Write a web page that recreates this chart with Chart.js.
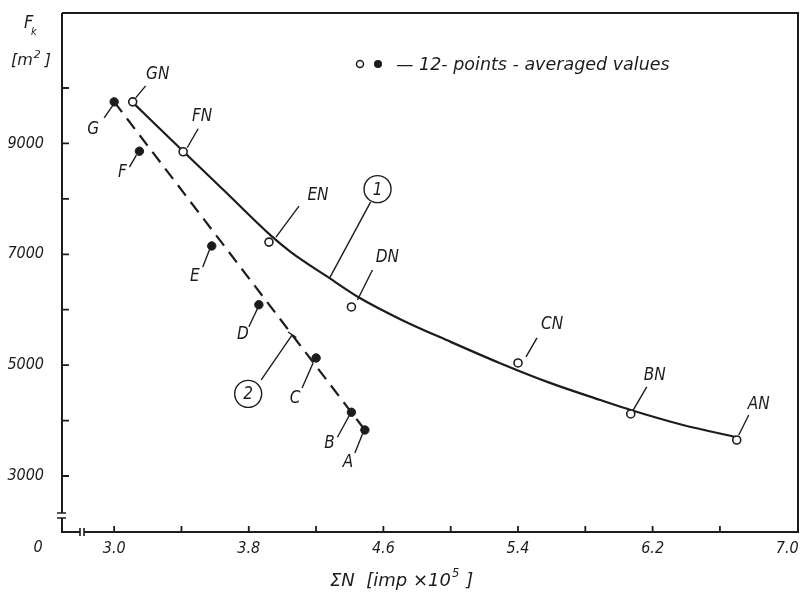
<!DOCTYPE html>
<html>
<head>
<meta charset="utf-8">
<script src="https://cdn.jsdelivr.net/npm/chart.js@4.4.1/dist/chart.umd.min.js"></script>
<style>
html,body{margin:0;padding:0;background:#ffffff;}
#wrap{width:804px;height:592px;}
</style>
</head>
<body>
<div id="wrap"><canvas id="c" width="804" height="592"></canvas></div>
<script>
// ---------- data ----------
const openNames   = ['GN', 'FN', 'EN', 'DN', 'CN', 'BN', 'AN'];
const openX       = [3.11, 3.41, 3.92, 4.41, 5.40, 6.07, 6.70];
const openY       = [9750, 8850, 7220, 6050, 5040, 4120, 3650];

const filledNames = ['G', 'F', 'E', 'D', 'C', 'B', 'A'];
const filledX     = [3.00, 3.15, 3.58, 3.86, 4.20, 4.41, 4.49];
const filledY     = [9750, 8860, 7150, 6090, 5130, 4150, 3830];

// curve (1): smooth fitted line through the open-circle values
const curve1X = [3.11, 3.41, 3.67, 3.93, 4.05, 4.28, 4.45, 4.70, 5.00, 5.29, 5.59, 5.89, 6.07, 6.38, 6.70];
const curve1Y = [9740, 8860, 8100, 7340, 7040, 6570, 6230, 5830, 5420, 5040, 4680, 4370, 4190, 3920, 3700];

// line (2): dashed straight line through the filled-dot values
const line2X = [3.00, 4.49];
const line2Y = [9750, 3830];

const xTicks      = [3.0, 3.4, 3.8, 4.2, 4.6, 5.0, 5.4, 5.8, 6.2, 6.6, 7.0];
const xTickLabels = ['3.0', '3.8', '4.6', '5.4', '6.2', '7.0'];
const yTicks      = [3000, 4000, 5000, 6000, 7000, 8000, 9000, 10000];
const yTickLabels = ['3000', '5000', '7000', '9000'];

// ---------- styles ----------
const INK = '#1c1c1c';
const FAM = "'DejaVu Sans Condensed', 'Liberation Sans', Arial, sans-serif";
const WIDE = "'DejaVu Sans', 'Liberation Sans', Arial, sans-serif";

const labelStyle = {
  GN: {l: [3, -4, 13, -16],  t: [25, -27]},
  FN: {l: [4, -4, 15, -23],  t: [19, -35]},
  EN: {l: [7, -5, 30, -36],  t: [49, -47]},
  DN: {l: [6, -7, 21, -37],  t: [36, -49]},
  CN: {l: [8, -6, 19, -25],  t: [34, -38]},
  BN: {l: [2, -3, 16, -27],  t: [24, -38]},
  AN: {l: [2, -5, 12, -25],  t: [22, -35]},
  G:  {l: [-1, 3, -10, 16],  t: [-21, 28]},
  F:  {l: [-3, 4, -10, 16],  t: [-17, 21]},
  E:  {l: [-2, 3, -9, 21],   t: [-17, 31]},
  D:  {l: [-1, 3, -10, 22],  t: [-16, 30]},
  C:  {l: [-3, 5, -14, 30],  t: [-21, 41]},
  B:  {l: [-2, 3, -14, 25],  t: [-22, 31]},
  A:  {l: [-2, 3, -10, 23],  t: [-17, 33]}
};

function font(size, fam) { return 'italic ' + size + 'px ' + (fam || FAM); }

const figurePlugin = {
  id: 'figure',
  afterDraw(chart) {
    const ctx = chart.ctx;
    const xs = chart.scales.x, ys = chart.scales.y;
    const a = chart.chartArea;
    ctx.save();
    ctx.strokeStyle = INK;
    ctx.fillStyle = INK;
    ctx.lineCap = 'butt';

    // frame: top + right
    ctx.lineWidth = 2;
    ctx.beginPath();
    ctx.moveTo(a.left, a.top); ctx.lineTo(a.right, a.top); ctx.lineTo(a.right, a.bottom);
    ctx.stroke();
    // left axis with break
    const yBreak1 = a.bottom - 19, yBreak2 = a.bottom - 14;
    ctx.beginPath();
    ctx.moveTo(a.left, a.top); ctx.lineTo(a.left, yBreak1);
    ctx.moveTo(a.left, yBreak2); ctx.lineTo(a.left, a.bottom);
    ctx.stroke();
    ctx.lineWidth = 1.6;
    ctx.beginPath();
    ctx.moveTo(a.left - 5, yBreak1); ctx.lineTo(a.left + 4, yBreak1);
    ctx.moveTo(a.left - 5, yBreak2); ctx.lineTo(a.left + 4, yBreak2);
    ctx.stroke();
    // bottom axis with break
    const xBreak1 = a.left + 18, xBreak2 = a.left + 22;
    ctx.lineWidth = 2;
    ctx.beginPath();
    ctx.moveTo(a.left - 1, a.bottom); ctx.lineTo(xBreak1, a.bottom);
    ctx.moveTo(xBreak2, a.bottom); ctx.lineTo(a.right + 1, a.bottom);
    ctx.stroke();
    ctx.lineWidth = 1.6;
    ctx.beginPath();
    ctx.moveTo(xBreak1, a.bottom - 4); ctx.lineTo(xBreak1, a.bottom + 4);
    ctx.moveTo(xBreak2, a.bottom - 4); ctx.lineTo(xBreak2, a.bottom + 4);
    ctx.stroke();

    // inward tick marks
    ctx.lineWidth = 1.8;
    ctx.beginPath();
    xs.ticks.forEach(t => {
      if (t.value >= 7.0) return;
      const px = xs.getPixelForValue(t.value);
      ctx.moveTo(px, a.bottom); ctx.lineTo(px, a.bottom - 6);
    });
    ys.ticks.forEach(t => {
      const py = ys.getPixelForValue(t.value);
      ctx.moveTo(a.left, py); ctx.lineTo(a.left + 7, py);
    });
    ctx.stroke();

    // origin label
    ctx.font = font(16);
    ctx.textAlign = 'center'; ctx.textBaseline = 'middle';
    ctx.fillText('0', 38, 548);

    // axis titles
    ctx.textAlign = 'left'; ctx.textBaseline = 'alphabetic';
    ctx.font = font(18); ctx.fillText('F', 24, 28);
    ctx.font = font(11); ctx.fillText('k', 31, 35);
    ctx.font = font(16, WIDE);
    let x0 = 11;
    ctx.fillText('[m', x0, 65); x0 += ctx.measureText('[m').width;
    ctx.font = font(11, WIDE); ctx.fillText('2', x0 + 1, 58); x0 += ctx.measureText('2').width + 5;
    ctx.font = font(16, WIDE); ctx.fillText(']', x0, 65);

    ctx.font = font(18, WIDE);
    let xt = 330;
    const tpart = '\u03A3N  [imp \u00D710';
    ctx.fillText(tpart, xt, 586);
    xt += ctx.measureText(tpart).width;
    ctx.font = font(11.5, WIDE); ctx.fillText('5', xt + 1, 577);
    xt += ctx.measureText('5').width + 8;
    ctx.font = font(18, WIDE); ctx.fillText(']', xt, 586);

    // legend
    ctx.lineWidth = 1.5;
    ctx.beginPath(); ctx.arc(360, 64, 3.5, 0, Math.PI * 2); ctx.stroke();
    ctx.beginPath(); ctx.arc(378, 64, 4, 0, Math.PI * 2); ctx.fill();
    ctx.font = font(17.5, WIDE);
    ctx.textBaseline = 'middle';
    ctx.fillText('\u2014 12- points - averaged values', 396, 65);

    // point labels with leader lines
    ctx.lineWidth = 1.4;
    ctx.textAlign = 'center'; ctx.textBaseline = 'middle';
    ctx.font = font(17);
    const drawLabels = (names, X, Y) => {
      names.forEach((n, i) => {
        const st = labelStyle[n];
        const px = xs.getPixelForValue(X[i]), py = ys.getPixelForValue(Y[i]);
        ctx.beginPath();
        ctx.moveTo(px + st.l[0], py + st.l[1]); ctx.lineTo(px + st.l[2], py + st.l[3]);
        ctx.stroke();
        ctx.fillText(n, px + st.t[0], py + st.t[1]);
      });
    };
    drawLabels(openNames, openX, openY);
    drawLabels(filledNames, filledX, filledY);

    // circled curve numbers
    const circled = (num, ax, ay, leadEnd, center, cross) => {
      ctx.beginPath();
      ctx.moveTo(ax, ay); ctx.lineTo(ax + leadEnd[0], ay + leadEnd[1]);
      ctx.stroke();
      if (cross) {
        const dx = leadEnd[0], dy = leadEnd[1], L = Math.hypot(dx, dy);
        const ux = -dy / L * 5, uy = dx / L * 5;
        ctx.beginPath(); ctx.moveTo(ax - ux, ay - uy); ctx.lineTo(ax + ux, ay + uy); ctx.stroke();
      }
      ctx.beginPath(); ctx.arc(ax + center[0], ay + center[1], 13.5, 0, Math.PI * 2); ctx.stroke();
      ctx.font = font(17);
      ctx.fillText(num, ax + center[0], ay + center[1] + 1);
    };
    // (1) attached to curve 1 at its 6th point
    const c1x = xs.getPixelForValue(curve1X[5]), c1y = ys.getPixelForValue(curve1Y[5]);
    circled('1', c1x, c1y, [41, -76], [48, -89], false);
    // (2) attached to dashed line 2 at 71% of its length
    const l2ax = xs.getPixelForValue(line2X[0]), l2ay = ys.getPixelForValue(line2Y[0]);
    const l2bx = xs.getPixelForValue(line2X[1]), l2by = ys.getPixelForValue(line2Y[1]);
    const tt = 0.71;
    const l2x = l2ax + (l2bx - l2ax) * tt, l2y = l2ay + (l2by - l2ay) * tt;
    circled('2', l2x, l2y, [-31, 45], [-44, 59], true);

    ctx.restore();
  }
};

const fmtX = v => Number(v).toFixed(1);
const fmtY = v => String(Math.round(v));

new Chart(document.getElementById('c').getContext('2d'), {
  type: 'scatter',
  data: {
    datasets: [
      {
        label: 'curve 1',
        data: curve1X.map((x, i) => ({x: x, y: curve1Y[i]})),
        showLine: true, borderColor: INK, borderWidth: 2.2, pointRadius: 0,
        cubicInterpolationMode: 'monotone', order: 3
      },
      {
        label: 'line 2',
        data: line2X.map((x, i) => ({x: x, y: line2Y[i]})),
        showLine: true, borderColor: INK, borderWidth: 2.2, borderDash: [13, 8],
        pointRadius: 0, order: 3
      },
      {
        label: 'open',
        data: openX.map((x, i) => ({x: x, y: openY[i]})),
        pointRadius: 4, pointBackgroundColor: '#ffffff', pointBorderColor: INK,
        pointBorderWidth: 1.6, order: 1
      },
      {
        label: 'filled',
        data: filledX.map((x, i) => ({x: x, y: filledY[i]})),
        pointRadius: 4.2, pointBackgroundColor: INK, pointBorderColor: INK,
        pointBorderWidth: 1, order: 1
      }
    ]
  },
  options: {
    responsive: false, animation: false, devicePixelRatio: 1,
    layout: {padding: {top: 13, right: 6, left: 0, bottom: 0}},
    plugins: {legend: {display: false}, tooltip: {enabled: false}},
    scales: {
      x: {
        type: 'linear', min: 2.69, max: 7.064,
        grid: {display: false, drawTicks: false}, border: {display: false},
        afterBuildTicks: s => { s.ticks = xTicks.map(v => ({value: v})); },
        afterFit: s => { s.height = 60; s.paddingLeft = 0; s.paddingRight = 0; },
        ticks: {
          autoSkip: false, maxRotation: 0, padding: 7, color: INK,
          font: {family: FAM, size: 16, style: 'italic'},
          callback: v => { const l = fmtX(v); return xTickLabels.includes(l) ? l : ''; }
        }
      },
      y: {
        type: 'linear', min: 1990, max: 11353,
        grid: {display: false, drawTicks: false}, border: {display: false},
        afterBuildTicks: s => { s.ticks = yTicks.map(v => ({value: v})); },
        afterFit: s => { s.width = 62; s.paddingTop = 0; s.paddingBottom = 0; },
        ticks: {
          autoSkip: false, padding: 18, color: INK,
          font: {family: FAM, size: 16, style: 'italic'},
          callback: v => { const l = fmtY(v); return yTickLabels.includes(l) ? l : ''; }
        }
      }
    }
  },
  plugins: [figurePlugin]
});
</script>
</body>
</html>
